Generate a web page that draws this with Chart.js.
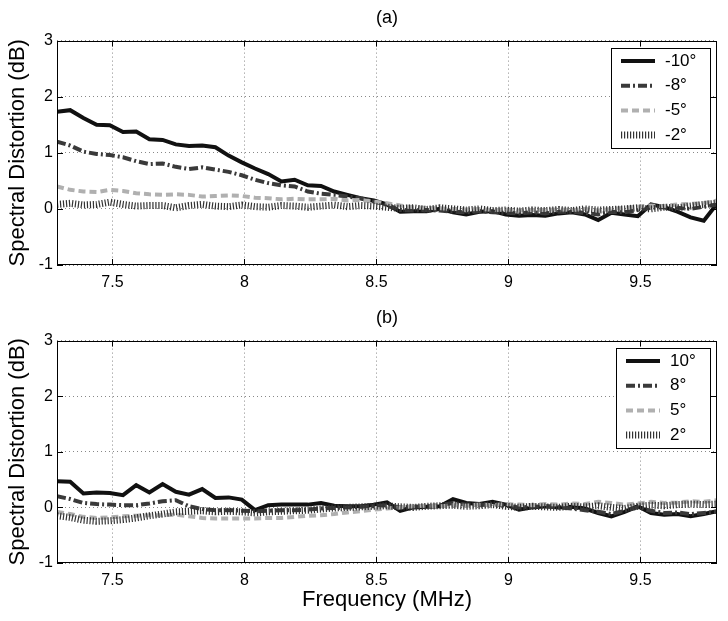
<!DOCTYPE html>
<html>
<head>
<meta charset="utf-8">
<title>Spectral Distortion</title>
<script src="https://cdn.jsdelivr.net/npm/chart.js@4.4.0/dist/chart.umd.min.js"></script>
<style>
  html, body { margin: 0; padding: 0; background: #fff; }
  #wrap { position: relative; width: 728px; height: 621px; }
  .panel { position: absolute; left: 0; width: 728px; }
  #panelA { top: 0; height: 300px; }
  #panelB { top: 300px; height: 321px; }
</style>
</head>
<body>
<div id="wrap">
  <div class="panel" id="panelA"><canvas id="chartA"></canvas></div>
  <div class="panel" id="panelB"><canvas id="chartB"></canvas></div>
</div>
<script>
// frequency samples (MHz)
const freq = [7.29, 7.34, 7.39, 7.44, 7.49, 7.54, 7.59, 7.64, 7.69, 7.74,
  7.79, 7.84, 7.89, 7.94, 7.99, 8.04, 8.09, 8.14, 8.19, 8.24,
  8.29, 8.34, 8.39, 8.44, 8.49, 8.54, 8.59, 8.64, 8.69, 8.74,
  8.79, 8.84, 8.89, 8.94, 8.99, 9.04, 9.09, 9.14, 9.19, 9.24,
  9.29, 9.34, 9.39, 9.44, 9.49, 9.54, 9.59, 9.64, 9.69, 9.74, 9.79];

const xTicks = [7.5, 8, 8.5, 9, 9.5];
const yTicks = [-1, 0, 1, 2, 3];

// panel (a): negative angles
const labelsA = ["-10°", "-8°", "-5°", "-2°"];
const minus10 = [1.73, 1.76, 1.62, 1.50, 1.49, 1.37, 1.38, 1.24, 1.23, 1.15,
  1.12, 1.13, 1.10, 0.95, 0.83, 0.72, 0.62, 0.49, 0.52, 0.42,
  0.41, 0.31, 0.25, 0.19, 0.15, 0.08, -0.05, -0.04, -0.04, 0.00,
  -0.06, -0.10, -0.05, -0.04, -0.10, -0.12, -0.11, -0.12, -0.08, -0.06,
  -0.10, -0.20, -0.07, -0.10, -0.13, 0.08, 0.03, -0.05, -0.15, -0.21, 0.09];
const minus8 = [1.20, 1.13, 1.02, 0.98, 0.96, 0.92, 0.85, 0.80, 0.81, 0.75,
  0.71, 0.74, 0.70, 0.66, 0.60, 0.52, 0.46, 0.42, 0.40, 0.31,
  0.27, 0.25, 0.22, 0.19, 0.13, 0.07, -0.02, -0.03, -0.02, -0.03,
  -0.05, -0.06, -0.04, -0.06, -0.07, -0.08, -0.06, -0.08, -0.05, -0.05,
  -0.07, -0.10, -0.05, -0.06, -0.02, 0.02, 0.03, 0.02, 0.00, 0.04, 0.08];
const minus5 = [0.40, 0.34, 0.31, 0.30, 0.34, 0.32, 0.28, 0.26, 0.25, 0.26,
  0.25, 0.22, 0.23, 0.24, 0.23, 0.20, 0.19, 0.17, 0.18, 0.17,
  0.17, 0.18, 0.15, 0.16, 0.13, 0.10, 0.06, 0.03, 0.02, 0.01,
  0.00, -0.01, 0.00, -0.02, -0.01, -0.03, -0.02, -0.02, -0.01, -0.02,
  0.00, -0.03, 0.00, 0.02, 0.04, 0.06, 0.05, 0.08, 0.09, 0.10, 0.15];
const minus2 = [0.08, 0.10, 0.07, 0.08, 0.12, 0.08, 0.05, 0.06, 0.06, 0.02,
  0.06, 0.08, 0.05, 0.04, 0.07, 0.04, 0.03, 0.06, 0.05, 0.03,
  0.05, 0.07, 0.04, 0.06, 0.05, 0.03, 0.01, 0.02, -0.01, 0.02,
  0.00, -0.02, 0.00, -0.03, -0.02, -0.04, -0.02, -0.03, -0.01, -0.03,
  0.00, -0.02, -0.01, 0.00, 0.02, 0.00, 0.03, 0.02, 0.05, 0.08, 0.10];

// panel (b): positive angles
const labelsB = ["10°", "8°", "5°", "2°"];
const plus10 = [0.47, 0.46, 0.25, 0.27, 0.26, 0.22, 0.40, 0.27, 0.42, 0.28,
  0.23, 0.33, 0.17, 0.18, 0.14, -0.05, 0.04, 0.05, 0.05, 0.05,
  0.08, 0.03, 0.02, 0.02, 0.05, 0.09, -0.06, 0.00, 0.01, 0.02,
  0.15, 0.08, 0.06, 0.10, 0.05, -0.04, 0.00, 0.02, 0.00, 0.01,
  -0.02, -0.10, -0.16, -0.08, 0.02, -0.10, -0.13, -0.12, -0.16, -0.12, -0.07];
const plus8 = [0.20, 0.15, 0.08, 0.06, 0.05, 0.04, 0.04, 0.07, 0.11, 0.13,
  0.02, -0.03, -0.05, -0.05, -0.06, -0.07, -0.06, -0.05, -0.05, -0.04,
  -0.02, -0.01, 0.00, 0.01, 0.02, 0.04, 0.00, 0.01, 0.02, 0.04,
  0.08, 0.05, 0.04, 0.06, 0.03, 0.00, 0.01, 0.02, 0.00, -0.02,
  -0.05, -0.08, -0.12, -0.06, 0.00, -0.06, -0.10, -0.09, -0.12, -0.10, -0.08];
const plus5 = [-0.08, -0.12, -0.17, -0.19, -0.18, -0.16, -0.15, -0.14, -0.14, -0.13,
  -0.16, -0.19, -0.20, -0.20, -0.20, -0.20, -0.19, -0.19, -0.17, -0.15,
  -0.14, -0.12, -0.09, -0.07, -0.04, -0.02, 0.00, 0.02, 0.03, 0.02,
  0.04, 0.03, 0.05, 0.04, 0.06, 0.05, 0.04, 0.06, 0.05, 0.07,
  0.06, 0.10, 0.08, 0.05, 0.07, 0.10, 0.08, 0.09, 0.11, 0.10, 0.13];
const plus2 = [-0.15, -0.18, -0.23, -0.25, -0.24, -0.22, -0.19, -0.15, -0.12, -0.08,
  -0.07, -0.06, -0.08, -0.07, -0.08, -0.10, -0.08, -0.07, -0.06, -0.05,
  -0.03, -0.01, 0.00, 0.01, 0.02, 0.03, 0.01, 0.00, 0.02, 0.03,
  0.04, 0.02, 0.03, 0.05, 0.02, 0.00, 0.02, 0.01, 0.00, 0.02,
  0.01, 0.03, 0.00, -0.02, 0.02, 0.04, 0.03, 0.05, 0.06, 0.05, 0.06];

// line looks: solid, dash-dot, dashed, hatched
const lineStyles = [
  { color: "#111", width: 4, dash: [] },
  { color: "#3a3a3a", width: 4, dash: [9, 3, 2, 3] },
  { color: "#b0b0b0", width: 4, dash: [7, 4] },
  { color: "#333", width: 7, dash: [1.2, 1.8] }
];

const FONT = "'Liberation Sans', Arial, Helvetica, sans-serif";
Chart.defaults.font.family = FONT;
Chart.defaults.color = "#000";

// black axes box with small inward ticks, drawn over the lines
const framePlugin = {
  id: "frame",
  afterDatasetsDraw(chart) {
    const { ctx, chartArea: a, scales } = chart;
    ctx.save();
    ctx.setLineDash([]);
    ctx.strokeStyle = "#000";
    ctx.lineWidth = 1;
    ctx.strokeRect(Math.round(a.left) + 0.5, Math.round(a.top) + 0.5,
      Math.round(a.width) - 1, Math.round(a.height) - 1);
    ctx.beginPath();
    xTicks.forEach(v => {
      const x = Math.round(scales.x.getPixelForValue(v)) + 0.5;
      ctx.moveTo(x, a.top); ctx.lineTo(x, a.top + 6);
      ctx.moveTo(x, a.bottom); ctx.lineTo(x, a.bottom - 6);
    });
    yTicks.forEach(v => {
      const y = Math.round(scales.y.getPixelForValue(v)) + 0.5;
      ctx.moveTo(a.left, y); ctx.lineTo(a.left + 6, y);
      ctx.moveTo(a.right, y); ctx.lineTo(a.right - 6, y);
    });
    ctx.stroke();
    ctx.restore();
  }
};

// matlab style legend box in the upper right corner
const boxLegend = {
  id: "boxLegend",
  afterDraw(chart) {
    const { ctx, chartArea: a } = chart;
    const sets = chart.data.datasets;
    ctx.save();
    ctx.font = "17px " + FONT;
    const textW = Math.max(...sets.map(d => ctx.measureText(d.label).width));
    const w = Math.round(10 + 34 + 10 + textW + 14), h = 100;
    const left = Math.round(a.right - 7 - w), top = Math.round(a.top + 7);
    ctx.fillStyle = "#fff";
    ctx.fillRect(left, top, w, h);
    ctx.strokeStyle = "#000";
    ctx.lineWidth = 1;
    ctx.strokeRect(left + 0.5, top + 0.5, w, h);
    sets.forEach((d, i) => {
      const y = top + 13 + i * 24.7;
      ctx.save();
      ctx.strokeStyle = d.borderColor;
      ctx.lineWidth = d.borderWidth;
      ctx.setLineDash(d.borderDash);
      ctx.lineCap = "butt";
      ctx.beginPath();
      ctx.moveTo(left + 10, y);
      ctx.lineTo(left + 44, y);
      ctx.stroke();
      ctx.restore();
      ctx.fillStyle = "#000";
      ctx.textAlign = "left";
      ctx.textBaseline = "middle";
      ctx.fillText(d.label, left + 54, y);
    });
    ctx.restore();
  }
};

function makeChart(canvasId, title, labels, series, xHeight, showXTitle) {
  const datasets = series.map((vals, i) => ({
    label: labels[i],
    data: freq.map((f, k) => ({ x: f, y: vals[k] })),
    borderColor: lineStyles[i].color,
    borderWidth: lineStyles[i].width,
    borderDash: lineStyles[i].dash,
    borderCapStyle: "butt",
    pointRadius: 0,
    tension: 0,
    fill: false,
    order: series.length - 1 - i
  }));

  return new Chart(document.getElementById(canvasId), {
    type: "line",
    data: { datasets },
    options: {
      responsive: true,
      maintainAspectRatio: false,
      animation: false,
      layout: { padding: { left: 0, right: 11, top: 0, bottom: 0 } },
      plugins: {
        legend: { display: false },
        tooltip: { enabled: false },
        title: {
          display: true,
          text: title,
          fullSize: false,
          color: "#000",
          font: { size: 18, weight: "normal" },
          padding: { top: 7, bottom: 12 }
        }
      },
      scales: {
        x: {
          type: "linear",
          min: 7.29,
          max: 9.79,
          afterBuildTicks: s => { s.ticks = xTicks.map(v => ({ value: v })); },
          afterFit: s => { s.height = xHeight; },
          grid: { color: "#888", lineWidth: 1, drawTicks: false },
          border: { display: false, dash: [1, 3] },
          ticks: { padding: 8, color: "#000", font: { size: 16 }, callback: v => String(v) },
          title: {
            display: showXTitle,
            text: "Frequency (MHz)",
            color: "#000",
            font: { size: 22 },
            padding: { top: 0, bottom: 8 }
          }
        },
        y: {
          min: -1,
          max: 3,
          afterBuildTicks: s => { s.ticks = yTicks.map(v => ({ value: v })); },
          afterFit: s => { s.width = 57; },
          grid: { color: "#888", lineWidth: 1, drawTicks: false },
          border: { display: false, dash: [1, 3] },
          ticks: { padding: 4, color: "#000", font: { size: 16 }, callback: v => String(v) },
          title: {
            display: true,
            text: "Spectral Distortion (dB)",
            color: "#000",
            font: { size: 22 },
            padding: { top: 5, bottom: 0 }
          }
        }
      }
    },
    plugins: [framePlugin, boxLegend]
  });
}

makeChart("chartA", "(a)", labelsA, [minus10, minus8, minus5, minus2], 35, false);
makeChart("chartB", "(b)", labelsB, [plus10, plus8, plus5, plus2], 58, true);
</script>
</body>
</html>
